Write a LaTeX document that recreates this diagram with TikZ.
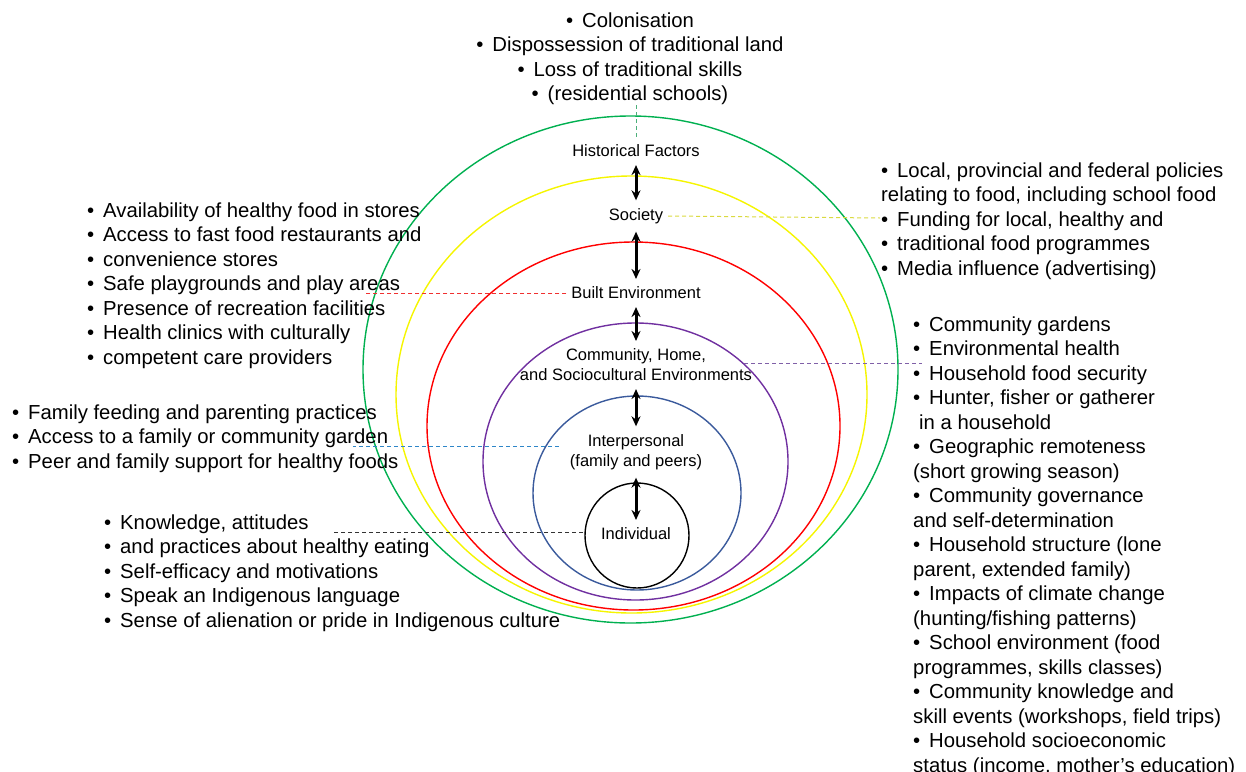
\documentclass[tikz,border=0pt]{standalone}
\usepackage{fontspec}
\setmainfont{Liberation Sans}
\usetikzlibrary{arrows.meta}
\definecolor{ringgreen}{HTML}{00B050}
\definecolor{ringyellow}{HTML}{F5F500}
\definecolor{ringred}{HTML}{FF0000}
\definecolor{ringpurple}{HTML}{7030A0}
\definecolor{ringblue}{HTML}{3A5A9C}
\definecolor{linkgreen}{HTML}{4CAF7A}
\definecolor{linkyellow}{HTML}{DADA40}
\definecolor{linkred}{HTML}{F03030}
\definecolor{linkpurple}{HTML}{8060A8}
\definecolor{linkblue}{HTML}{2E86C8}
\newcommand{\bul}{\makebox[16pt][l]{•}}

\begin{document}
\begin{tikzpicture}[x=1pt,y=-1pt,
	lab/.style={font=\fontsize{16.5}{20}\selectfont,align=center,inner sep=0pt,outer xsep=5pt,outer ysep=8pt},
	list/.style={font=\fontsize{20.3}{24.5}\selectfont,align=left,inner sep=0pt,anchor=north west},
	ring/.style={line width=1.4pt},
	updown/.style={{Stealth[length=10pt,width=9pt]}-{Stealth[length=10pt,width=9pt]},line width=3pt},
	link/.style={dash pattern=on 4pt off 3pt,line width=1pt}]
	\useasboundingbox(0,0)rectangle(1246,771);
	% nested rings
	\draw[ring,ringgreen](630.5,369.5)ellipse[x radius=267.5,y radius=253.5];
	\draw[ring,ringyellow](631.5,394.5)ellipse[x radius=235.5,y radius=218.5];
	\draw[ring,ringred](633.5,426)ellipse[x radius=206.5,y radius=184];
	\draw[ring,ringpurple](635.5,461.5)ellipse[x radius=152.5,y radius=138.5];
	\draw[ring,ringblue](637,493)ellipse[x radius=104,y radius=97];
	\draw[ring,black](637,535.5)ellipse[x radius=52,y radius=52.5];
	% level labels
	\node[lab](histlab)at(636,151){Historical Factors};
	\node[lab](soclab)at(636,216){Society};
	\node[lab](builtlab)at(636,293){Built Environment};
	\node[lab](commlab)at(636,365){Community, Home,\\and Sociocultural Environments};
	\node[lab](interlab)at(636,452){Interpersonal\\(family and peers)};
	\node[lab](indivlab)at(636,534){Individual};
	\draw[updown](histlab)--(soclab);
	\draw[updown](soclab)--(builtlab);
	\draw[updown](builtlab)--(commlab);
	\draw[updown](commlab)--(interlab);
	\draw[updown](interlab)--(indivlab);
	% factor lists
	\node[list,anchor=north,align=center](histlist)at(630,12.5){\bul Colonisation\\\bul Dispossession of traditional land\\\bul Loss of traditional skills\\\bul (residential schools)};
	\node[list](soclist)at(881,162.5){\bul Local, provincial and federal policies\\relating to food, including school food\\\bul Funding for local, healthy and\\\bul traditional food programmes\\\bul Media influence (advertising)};
	\node[list](builtlist)at(87,202.5){\bul Availability of healthy food in stores\\\bul Access to fast food restaurants and\\\bul convenience stores\\\bul Safe playgrounds and play areas\\\bul Presence of recreation facilities\\\bul Health clinics with culturally\\\bul competent care providers};
	\node[list](interlist)at(12,404.5){\bul Family feeding and parenting practices\\\bul Access to a family or community garden\\\bul Peer and family support for healthy foods};
	\node[list](indivlist)at(104,514.5){\bul Knowledge, attitudes\\\bul and practices about healthy eating\\\bul Self-efficacy and motivations\\\bul Speak an Indigenous language\\\bul Sense of alienation or pride in Indigenous culture};
	\node[list](commlist)at(913,316.5){\bul Community gardens\\\bul Environmental health\\\bul Household food security\\\bul Hunter, fisher or gatherer\\\hspace{6pt}in a household\\\bul Geographic remoteness\\(short growing season)\\\bul Community governance\\and self-determination\\\bul Household structure (lone\\parent, extended family)\\\bul Impacts of climate change\\(hunting/fishing patterns)\\\bul School environment (food\\programmes, skills classes)\\\bul Community knowledge and\\skill events (workshops, field trips)\\\bul Household socioeconomic\\status (income, mother’s education)};
	% dashed leaders
	\coordinate(socpt)at(880,218);
	\coordinate(builtpt)at(366,293);
	\coordinate(commpt)at(922,363);
	\coordinate(interpt)at(353,446);
	\coordinate(indivpt)at(332,532);
	\draw[link,linkgreen](histlab.north)--(histlab.north|-histlist.south);
	\draw[link,linkyellow](soclab.east)--(socpt);
	\draw[link,linkred](builtlab.west)--(builtpt);
	\draw[link,linkpurple]([xshift=-13pt,yshift=2pt]commlab.east)--(commpt);
	\draw[link,linkblue]([xshift=-6pt,yshift=6pt]interlab.west)--(interpt);
	\draw[link,black!80]([xshift=-13pt,yshift=2pt]indivlab.west)--(indivpt);
\end{tikzpicture}
\end{document}
